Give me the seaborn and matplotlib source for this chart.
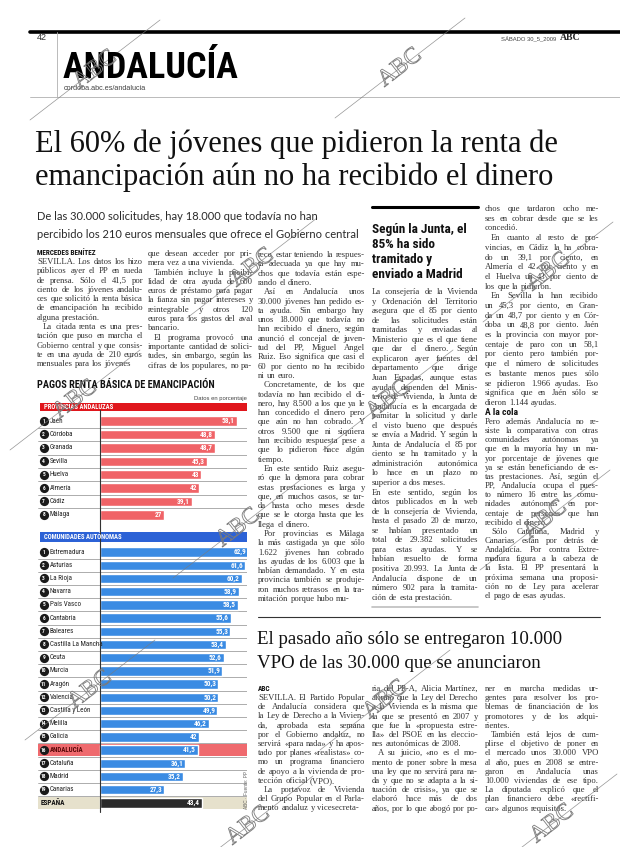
import matplotlib
matplotlib.use("Agg")
import matplotlib.pyplot as plt
import matplotlib.patheffects as pe
from matplotlib.lines import Line2D
from matplotlib.patches import Rectangle
from matplotlib import font_manager
import pandas as pd
import seaborn as sns

# ---- chart data -------------------------------------------------------
chart_title = "PAGOS RENTA BÁSICA DE EMANCIPACIÓN"
chart_note = "Datos en porcentaje"
prov_header = "PROVINCIAS ANDALUZAS"
prov_names = ["Jaén", "Córdoba", "Granada", "Sevilla", "Huelva", "Almería", "Cádiz", "Málaga"]
prov_values = [58.1, 48.8, 48.7, 45.3, 43, 42, 39.1, 27]

ccaa_header = "COMUNIDADES AUTÓNOMAS"
ccaa_names = ["Extremadura", "Asturias", "La Rioja", "Navarra", "País Vasco", "Cantabria",
              "Baleares", "Castilla La Mancha", "Ceuta", "Murcia", "Aragón", "Valencia",
              "Castilla y León", "Melilla", "Galicia", "ANDALUCÍA", "Cataluña", "Madrid", "Canarias"]
ccaa_values = [62.9, 61.6, 60.2, 58.9, 58.5, 55.6, 55.3, 53.4, 52.6, 51.9, 50.3, 50.2,
               49.9, 46.2, 42, 41.5, 36.1, 35.2, 27.3]
spain_name = "ESPAÑA"
spain_value = 43.4
source_text = "ABC · Fuente: PP"

# ---- page text --------------------------------------------------------
section = "ANDALUCÍA"
section_url = "cordoba.abc.es/andalucia"
page_num = "42"
date_text = "SÁBADO 30_5_2009"
headline = ["El 60% de jóvenes que pidieron la renta de",
            "emancipación aún no ha recibido el dinero"]
subtitle = ["De las 30.000 solicitudes, hay 18.000 que todavía no han",
            "percibido los 210 euros mensuales que ofrece el Gobierno central"]
byline = "MERCEDES BENÍTEZ"

col1 = ["SEVILLA. Los datos los hizo",
        "públicos ayer el PP en rueda",
        "de prensa. Sólo el 41,5 por",
        "ciento de los jóvenes andalu-",
        "ces que solicitó la renta básica",
        "de emancipación ha recibido",
        "alguna prestación.",
        "  La citada renta es una pres-",
        "tación que puso en marcha el",
        "Gobierno central y que consis-",
        "te en una ayuda de 210 euros",
        "mensuales para los jóvenes"]
col2 = ["que desean acceder por pri-",
        "mera vez a una vivienda.",
        "  También incluye la posibi-",
        "lidad de otra ayuda de 600",
        "euros de préstamo para pagar",
        "la fianza sin pagar intereses y",
        "reintegrable y otros 120",
        "euros para los gastos del aval",
        "bancario.",
        "  El programa provocó una",
        "importante cantidad de solici-",
        "tudes, sin embargo, según las",
        "cifras de los populares, no pa-"]
col3 = ["rece estar teniendo la respues-",
        "ta adecuada ya que hay mu-",
        "chos que todavía están espe-",
        "rando el dinero.",
        "  Así en Andalucía unos",
        "30.000 jóvenes han pedido es-",
        "ta ayuda. Sin embargo hay",
        "unos 18.000 que todavía no",
        "han recibido el dinero, según",
        "anunció el concejal de juven-",
        "tud del PP, Miguel Angel",
        "Ruiz. Eso significa que casi el",
        "60 por ciento no ha recibido",
        "ni un euro.",
        "  Concretamente, de los que",
        "todavía no han recibido el di-",
        "nero, hay 8.500 a los que ya le",
        "han concedido el dinero pero",
        "que aún no han cobrado. Y",
        "otros 9.500 que ni siquiera",
        "han recibido respuesta pese a",
        "que lo pidieron hace algún",
        "tiempo.",
        "  En este sentido Ruiz asegu-",
        "ró que la demora para cobrar",
        "estas prestaciones es larga y",
        "que, en muchos casos, se tar-",
        "da hasta ocho meses desde",
        "que se le otorga hasta que les",
        "llega el dinero.",
        "  Por provincias es Málaga",
        "la más castigada ya que sólo",
        "1.622 jóvenes han cobrado",
        "las ayudas de los 6.003 que la",
        "habían demandado. Y en esta",
        "provincia también se produje-",
        "ron muchos retrasos en la tra-",
        "mitación porque hubo mu-"]
side_head = ["Según la Junta, el", "85% ha sido", "tramitado y", "enviado a Madrid"]
col4 = ["La consejería de la Vivienda",
        "y Ordenación del Territorio",
        "asegura que el 85 por ciento",
        "de las solicitudes están",
        "tramitadas y enviadas al",
        "Ministerio que es el que tiene",
        "que dar el dinero. Según",
        "explicaron ayer fuentes del",
        "departamento que dirige",
        "Juan Espadas, aunque estas",
        "ayudas dependen del Minis-",
        "terio de Vivienda, la Junta de",
        "Andalucía es la encargada de",
        "tramitar la solicitud y darle",
        "el visto bueno que después",
        "se envía a Madrid. Y según la",
        "Junta de Andalucía el 85 por",
        "ciento se ha tramitado y la",
        "administración autonómica",
        "lo hace en un plazo no",
        "superior a dos meses.",
        "En este sentido, según los",
        "datos publicados en la web",
        "de la consejería de Vivienda,",
        "hasta el pasado 20 de marzo,",
        "se habían presentado un",
        "total de 29.382 solicitudes",
        "para estas ayudas. Y se",
        "habían resuelto de forma",
        "positiva 20.993. La Junta de",
        "Andalucía dispone de un",
        "número 902 para la tramita-",
        "ción de esta prestación."]
col5a = ["chos que tardaron ocho me-",
         "ses en cobrar desde que se les",
         "concedió.",
         "  En cuanto al resto de pro-",
         "vincias, en Cádiz la ha cobra-",
         "do un 39,1 por ciento, en",
         "Almería el 42 por ciento y en",
         "el Huelva un 43 por ciento de",
         "los que la pidieron.",
         "  En Sevilla la han recibido",
         "un 45,3 por ciento, en Gran-",
         "da un 48,7 por ciento y en Cór-",
         "doba un 48,8 por ciento. Jaén",
         "es la provincia con mayor por-",
         "centaje de paro con un 58,1",
         "por ciento pero también por-",
         "que el número de solicitudes",
         "es bastante menos pues sólo",
         "se pidieron 1.966 ayudas. Eso",
         "significa que en Jaén sólo se",
         "dieron 1.144 ayudas."]
col5_head = "A la cola"
col5b = ["Pero además Andalucía no re-",
         "siste la comparativa con otras",
         "comunidades autónomas ya",
         "que en la mayoría hay un ma-",
         "yor porcentaje de jóvenes que",
         "ya se están beneficiando de es-",
         "tas prestaciones. Así, según el",
         "PP, Andalucía ocupa el pues-",
         "to número 16 entre las comu-",
         "nidades autónomas en por-",
         "centaje de personas que han",
         "recibido el dinero.",
         "  Sólo Cataluña, Madrid y",
         "Canarias están por detrás de",
         "Andalucía. Por contra Extre-",
         "madura figura a la cabeza de",
         "la lista. El PP presentará la",
         "próxima semana una proposi-",
         "ción no de Ley para acelerar",
         "el pago de esas ayudas."]

headline2 = ["El pasado año sólo se entregaron 10.000",
             "VPO de las 30.000 que se anunciaron"]
byline2 = "ABC"
colA = ["SEVILLA. El Partido Popular",
        "de Andalucía considera que",
        "la Ley de Derecho a la Vivien-",
        "da, aprobada esta semana",
        "por el Gobierno andaluz, no",
        "servirá «para nada» y ha apos-",
        "tado por planes «realistas» co-",
        "mo un programa financiero",
        "de apoyo a la vivienda de pro-",
        "tección oficial (VPO).",
        "  La portavoz de Vivienda",
        "del Grupo Popular en el Parla-",
        "mento andaluz y vicesecreta-"]
colB = ["ria del PP-A, Alicia Martínez,",
        "afirmó que la Ley del Derecho",
        "a la Vivienda es la misma que",
        "la que se presentó en 2007 y",
        "que fue la «propuesta estre-",
        "lla» del PSOE en las eleccio-",
        "nes autonómicas de 2008.",
        "  A su juicio, «no es el mo-",
        "mento de poner sobre la mesa",
        "una ley que no servirá para na-",
        "da y que no se adapta a la si-",
        "tuación de crisis», ya que se",
        "elaboró hace más de dos",
        "años, por lo que abogó por po-"]
colC = ["ner en marcha medidas ur-",
        "gentes para resolver los pro-",
        "blemas de financiación de los",
        "promotores y de los adqui-",
        "rientes.",
        "  También está lejos de cum-",
        "plirse el objetivo de poner en",
        "el mercado unos 30.000 VPO",
        "al año, pues en 2008 se entre-",
        "garon en Andalucía unas",
        "10.000 viviendas de ese tipo.",
        "La diputada explicó que el",
        "plan financiero debe «rectifi-",
        "car» algunos requisitos."]

# ---- setup -------------------------------------------------------------
sns.set_theme(style="white")
fonts = font_manager.fontManager.ttflist
installed = {f.name for f in fonts}

# condensed sans for headings and chart labels, if the system has one
NARROW = {"family": ["Roboto", "DejaVu Sans"]}
narrow_found = False
for name in ["Liberation Sans Narrow", "Roboto Condensed", "Open Sans Condensed",
             "Noto Sans Condensed", "DejaVu Sans Condensed"]:
    if name in installed:
        NARROW = {"family": [name, "DejaVu Sans"]}
        narrow_found = True
        break
if not narrow_found:
    for f in fonts:
        if f.name in ("Noto Sans", "DejaVu Sans", "Open Sans") and f.stretch in ("condensed", "semi-condensed"):
            NARROW = {"family": [f.name, "DejaVu Sans"], "fontstretch": f.stretch}
            narrow_found = True
            break
NS = 1.0 if narrow_found else 0.9  # shrink headings when only a normal-width face exists

SERIF = ["Liberation Serif", "DejaVu Serif"]
SANS = ["Liberation Sans", "DejaVu Sans"]
LIGHT = ["Lato", "Open Sans", "Liberation Sans", "DejaVu Sans"]
plt.rcParams["font.family"] = SANS

W, H = 620, 847
fig = plt.figure(figsize=(W / 100, H / 100), dpi=100)
fig.patch.set_facecolor("white")
renderer = fig.canvas.get_renderer()

RED_BAND = "#e0161c"
RED_BAR = "#f06367"
BLUE_BAND = "#2c62d6"
BLUE_BAR = "#3a8be3"
BODY = "#333333"
BODY_SIZE = 6.2


def fx(x):
    return x / W


def fy(y):
    return 1 - y / H


def put(x, y, s, **kw):
    kw.setdefault("va", "center")
    return fig.text(fx(x), fy(y), s, **kw)


def nput(x, y, s, size, **kw):
    return put(x, y, s, fontsize=size * NS, fontweight="bold", **NARROW, **kw)


def hline(x0, x1, y, **kw):
    fig.add_artist(Line2D([fx(x0), fx(x1)], [fy(y), fy(y)], **kw))


def vline(x, y0, y1, **kw):
    fig.add_artist(Line2D([fx(x), fx(x)], [fy(y0), fy(y1)], **kw))


_widths = {}


def text_w(s):
    if s not in _widths:
        t = fig.text(0, 0, s, fontsize=BODY_SIZE, family=SERIF)
        _widths[s] = t.get_window_extent(renderer).width
        t.remove()
    return _widths[s]


SPACE = text_w("n n") - text_w("nn")


def column(x, y0, lines, width=106, step=9.3):
    # justified newspaper column, one text per word; tight lines are shrunk to fit
    for i, line in enumerate(lines):
        indent = 6 if line.startswith("  ") else 0
        words = line.split()
        nxt = lines[i + 1] if i + 1 < len(lines) else None
        para_end = nxt is None or nxt.startswith("  ")
        widths = [text_w(w) for w in words]
        avail = width - indent
        natural = sum(widths) + SPACE * (len(words) - 1)
        size, gap = BODY_SIZE, SPACE
        if natural > avail:
            k = avail / natural
            size, gap = BODY_SIZE * k, SPACE * k
            widths = [w * k for w in widths]
        elif len(words) > 1 and not para_end and natural > 0.72 * avail:
            gap = (avail - sum(widths)) / (len(words) - 1)
        cx = x + indent
        for w, wd in zip(words, widths):
            put(cx, y0 + i * step, w, fontsize=size, family=SERIF, color=BODY)
            cx += wd + gap


# ---- masthead ----------------------------------------------------------
hline(30, 620, 32, color="black", lw=2.6)
hline(30, 620, 97, color="#b0b0b0", lw=0.6)
vline(57, 32, 97, color="#b0b0b0", lw=0.6)
put(37, 38, page_num, fontsize=6.5, color="#333")
put(501, 38, date_text, fontsize=4.2, color="#444")
put(560, 38, "ABC", fontsize=7, family=SERIF, fontweight="bold")
nput(63, 78, section, 26 if narrow_found else 22, va="baseline", color="black")
put(64, 89, section_url, fontsize=5.2, color="#444")

# ---- main headline -----------------------------------------------------
put(35, 144, headline[0], fontsize=22, family=SERIF, color="#111")
put(35, 177, headline[1], fontsize=22, family=SERIF, color="#111")
put(37, 216, subtitle[0], fontsize=8, family=LIGHT, color="#2a2a2a")
put(37, 234, subtitle[1], fontsize=8, family=LIGHT, color="#2a2a2a")

# ---- body columns ------------------------------------------------------
nput(37, 253, byline, 5.2, color="#111")
column(37, 262, col1)
column(148, 254, col2, width=105)
column(258, 255, col3, width=107)

hline(372, 478, 207, color="black", lw=2.2)
for i, line in enumerate(side_head):
    nput(372, 229 + i * 15.3, line, 9.5, color="#111")
column(372, 292, col4, step=9.55)
hline(372, 478, 607, color="#bdbdbd", lw=1.2)

column(485, 209, col5a, width=114, step=9.7)
nput(485, 412, col5_head, 6.8, color="#111")
column(485, 422, col5b, width=114, step=9.15)

# ---- second article ----------------------------------------------------
hline(258, 600, 617, color="#333", lw=0.8)
put(257, 639, headline2[0], fontsize=13.6, family=SERIF, color="#111")
put(257, 663, headline2[1], fontsize=13.6, family=SERIF, color="#111")
nput(258, 689, byline2, 5.2, color="#111")
column(258, 698, colA, width=107, step=9.2)
column(372, 689, colB, width=106, step=9.2)
column(485, 689, colC, width=114, step=9.2)

# ---- chart -------------------------------------------------------------
nput(37, 385, chart_title, 7.4, color="#111")
put(247, 398, chart_note, fontsize=4.2, ha="right", color="#444")


def band(y0, y1, color, label):
    fig.add_artist(Rectangle((fx(40), fy(y1)), fx(247) - fx(40), fy(y0) - fy(y1),
                             transform=fig.transFigure, color=color, lw=0))
    nput(44, (y0 + y1) / 2, label, 4.8, color="white")


band(403, 411.5, RED_BAND, prov_header)
band(532, 542, BLUE_BAND, ccaa_header)

XMIN, XMAX = -26.4, 62.5


def fmt(v):
    return str(int(v)) if v == int(v) else f"{v:.1f}".replace(".", ",")


def panel(top, bottom, names, values, colors, special=None):
    ax = fig.add_axes([fx(38), fy(bottom), fx(247) - fx(38), fy(top) - fy(bottom)])
    df = pd.DataFrame({"nombre": names, "valor": values})
    pal = dict(zip(names, colors))
    n = len(names)
    special = special or {}
    for i, name in enumerate(names):
        if name in special:
            ax.axhspan(i - 0.48, i + 0.48, color=special[name], lw=0, zorder=0)
    sns.barplot(data=df, x="valor", y="nombre", hue="nombre", palette=pal,
                legend=False, width=0.7, saturation=1, ax=ax, zorder=2)
    for i in range(n - 1):
        ax.axhline(i + 0.5, color="#8c8c8c", lw=0.5, zorder=1)
    for i, v in enumerate(values):
        ax.text(v - 0.8, i, fmt(v), ha="right", va="center", fontsize=5.2,
                fontweight="bold", color="white", zorder=3, **NARROW)
    ax.set_xlim(XMIN, XMAX)
    ax.set_ylim(n - 0.5, -0.5)
    ax.set_axis_off()
    return ax


def row_labels(ax, names, highlight=None):
    for i, name in enumerate(names):
        hl = name == highlight
        ax.scatter([-24.0], [i], s=44, color="#1a1a1a", zorder=3, lw=0)
        ax.text(-24.0, i, str(i + 1), ha="center", va="center", fontsize=3.9,
                color="white", fontweight="bold", zorder=4, **NARROW)
        ax.text(-21.4, i, name, ha="left", va="center", fontsize=5.0 * NS,
                color="#5a0808" if hl else "#222",
                fontweight="bold" if hl else "normal", zorder=4, **NARROW)


prov_colors = [RED_BAR] * len(prov_names)
ax1 = panel(414.4, 521.6, prov_names, prov_values, prov_colors)
row_labels(ax1, prov_names)

all_names = ccaa_names + [spain_name]
all_values = ccaa_values + [spain_value]
all_colors = [BLUE_BAR] * len(ccaa_names) + ["#2b2b2b"]
ax2 = panel(545.5, 809.5, all_names, all_values, all_colors,
            special={"ANDALUCÍA": "#ef6a6e", spain_name: "#e6e1cc"})
row_labels(ax2, ccaa_names, highlight="ANDALUCÍA")
ax2.text(-25.2, len(ccaa_names), spain_name, ha="left", va="center", fontsize=5.2,
         fontweight="bold", color="#111", zorder=4, **NARROW)

vline(100, 410, 812, color="#333", lw=0.8)
put(246, 790, source_text, fontsize=3.4, rotation=90, ha="center", color="#666")

# ---- scan watermarks ----------------------------------------------------
marks = [(95, 70), (400, 68), (252, 268), (548, 272), (75, 400), (388, 400),
         (238, 528), (545, 520), (90, 690), (385, 700), (248, 826), (552, 824)]
for mx, my in marks:
    fig.add_artist(Line2D([fx(mx - 65), fx(mx + 65)], [fy(my + 50), fy(my - 50)],
                          color="#7a7a7a", lw=0.5, alpha=0.8))
    t = put(mx, my, "ABC", fontsize=17, family=SERIF, rotation=38, ha="center",
            color="none")
    t.set_path_effects([pe.Stroke(linewidth=0.6, foreground="#7a7a7a")])

fig.savefig("out.png", dpi=100, facecolor="white")
